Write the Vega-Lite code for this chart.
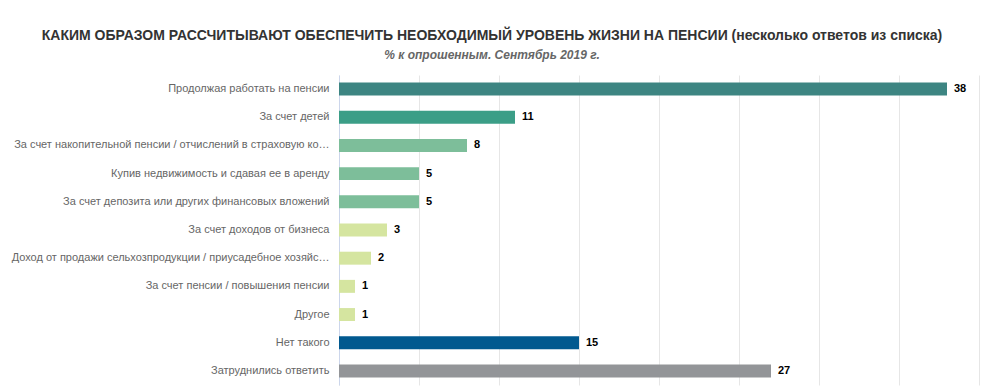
{
  "$schema": "https://vega.github.io/schema/vega-lite/v6.json",
  "width": 640,
  "height": 310,
  "autosize": {"type": "none"},
  "padding": {"left": 339, "top": 75, "right": 4, "bottom": 5},
  "background": "white",
  "title": {
    "text": "КАКИМ ОБРАЗОМ РАССЧИТЫВАЮТ ОБЕСПЕЧИТЬ НЕОБХОДИМЫЙ УРОВЕНЬ ЖИЗНИ НА ПЕНСИИ (несколько ответов из списка)",
    "subtitle": "% к опрошенным. Сентябрь 2019 г.",
    "anchor": "middle",
    "frame": "group",
    "dx": -167,
    "offset": 14,
    "font": "Liberation Sans",
    "fontSize": 14,
    "fontWeight": "bold",
    "color": "#333333",
    "subtitleFont": "Liberation Sans",
    "subtitleFontSize": 12,
    "subtitleFontStyle": "italic",
    "subtitleFontWeight": "bold",
    "subtitleColor": "#666666",
    "subtitlePadding": 7
  },
  "data": {
    "values": [
      {"category": "Продолжая работать на пенсии", "value": 38},
      {"category": "За счет детей", "value": 11},
      {"category": "За счет накопительной пенсии / отчислений в страховую ко…", "value": 8},
      {"category": "Купив недвижимость и сдавая ее в аренду", "value": 5},
      {"category": "За счет депозита или других финансовых вложений", "value": 5},
      {"category": "За счет доходов от бизнеса", "value": 3},
      {"category": "Доход от продажи сельхозпродукции / приусадебное хозяйс…", "value": 2},
      {"category": "За счет пенсии / повышения пенсии", "value": 1},
      {"category": "Другое", "value": 1},
      {"category": "Нет такого", "value": 15},
      {"category": "Затруднились ответить", "value": 27}
    ]
  },
  "encoding": {
    "y": {
      "field": "category",
      "type": "nominal",
      "sort": null,
      "scale": {"paddingInner": 0.54, "paddingOuter": 0.27},
      "axis": {
        "title": null,
        "ticks": false,
        "labelPadding": 10,
        "labelFont": "Liberation Sans",
        "labelFontSize": 11,
        "labelColor": "#666666",
        "labelLimit": 340,
        "domainColor": "#ccd6eb",
        "grid": false
      }
    },
    "x": {
      "field": "value",
      "type": "quantitative",
      "scale": {"domain": [0, 40], "nice": false},
      "axis": {
        "title": null,
        "labels": false,
        "ticks": false,
        "domain": false,
        "values": [0, 5, 10, 15, 20, 25, 30, 35, 40],
        "grid": true,
        "gridColor": "#e6e6e6"
      }
    }
  },
  "layer": [
    {
      "mark": {"type": "bar"},
      "encoding": {
        "color": {
          "field": "category",
          "type": "nominal",
          "legend": null,
          "scale": {
            "domain": [
              "Продолжая работать на пенсии",
              "За счет детей",
              "За счет накопительной пенсии / отчислений в страховую ко…",
              "Купив недвижимость и сдавая ее в аренду",
              "За счет депозита или других финансовых вложений",
              "За счет доходов от бизнеса",
              "Доход от продажи сельхозпродукции / приусадебное хозяйс…",
              "За счет пенсии / повышения пенсии",
              "Другое",
              "Нет такого",
              "Затруднились ответить"
            ],
            "range": ["#3d8582", "#3b9e87", "#7dbe9a", "#7dbe9a", "#7dbe9a", "#d5e5a0", "#d5e5a0", "#d5e5a0", "#d5e5a0", "#01598f", "#939598"]
          }
        }
      }
    },
    {
      "mark": {"type": "text", "align": "left", "baseline": "middle", "dx": 7, "font": "Liberation Sans", "fontSize": 11, "fontWeight": "bold", "color": "#000000"},
      "encoding": {"text": {"field": "value", "type": "quantitative"}}
    }
  ],
  "config": {"view": {"stroke": null}}
}
